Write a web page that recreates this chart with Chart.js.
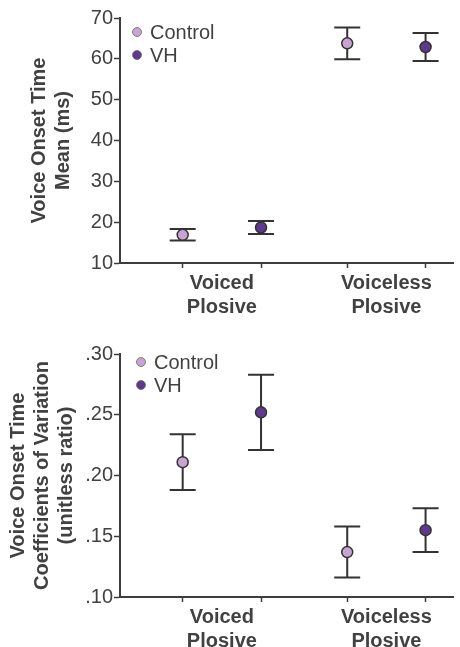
<!DOCTYPE html>
<html lang="en">
<head>
  <meta charset="UTF-8">
  <title>Voice Onset Time</title>
  <style>
    body {
      margin: 0;
      padding: 0;
      background: #ffffff;
    }
    .wrap {
      position: relative;
      width: 460px;
      height: 647px;
    }
    canvas {
      position: absolute;
      left: 0;
    }
    #meanChart { top: 0; }
    #cvChart { top: 315px; }
  </style>
</head>
<body>
  <div class="wrap">
    <canvas id="meanChart" width="460" height="325"></canvas>
    <canvas id="cvChart" width="460" height="332"></canvas>
  </div>

  <script src="https://cdn.jsdelivr.net/npm/chart.js"></script>
  <script>
    // data
    const categories = [['Voiced', 'Plosive'], ['Voiceless', 'Plosive']];
    const groups = ['Control', 'VH'];

    const meanControl = [16.9, 63.8];
    const meanControlErr = [1.4, 3.9];
    const meanVH = [18.7, 62.9];
    const meanVHErr = [1.6, 3.4];

    const cvControl = [0.211, 0.137];
    const cvControlErr = [0.023, 0.021];
    const cvVH = [0.252, 0.155];
    const cvVHErr = [0.031, 0.018];

    const meanTicks = [10, 20, 30, 40, 50, 60, 70];
    const cvTicks = ['.10', '.15', '.20', '.25', '.30'];

    const textColor = '#414141';
    const axisColor = '#3d3d3d';
    const fontFamily = "'Liberation Sans', Arial, Helvetica, sans-serif";
    const colors = ['#c9a3d2', '#5f3a8c'];

    Chart.defaults.font.family = fontFamily;
    Chart.defaults.color = textColor;

    // x position of a point: category index + series offset
    function xPos(cat, series) {
      return 1 + cat * 2.1 + series;
    }

    function buildDatasets(seriesVals, seriesErr) {
      return groups.map((g, s) => ({
        label: g,
        data: seriesVals[s].map((v, c) => ({ x: xPos(c, s), y: v })),
        errors: seriesErr[s],
        backgroundColor: colors[s],
        borderColor: '#333333',
        borderWidth: 1.5,
        pointRadius: 5.5,
        pointHoverRadius: 5.5,
        showLine: false
      }));
    }

    // vertical error bars, drawn behind the points
    const errorBars = {
      id: 'errorBars',
      beforeDatasetsDraw(chart) {
        const ctx = chart.ctx;
        const yScale = chart.scales.y;
        ctx.save();
        ctx.strokeStyle = '#333333';
        ctx.lineWidth = 2;
        chart.data.datasets.forEach((ds, i) => {
          const meta = chart.getDatasetMeta(i);
          meta.data.forEach((pt, j) => {
            const v = ds.data[j].y;
            const e = ds.errors[j];
            const top = yScale.getPixelForValue(v + e);
            const bot = yScale.getPixelForValue(v - e);
            const x = pt.x;
            ctx.beginPath();
            ctx.moveTo(x, top);
            ctx.lineTo(x, bot);
            ctx.moveTo(x - 13, top);
            ctx.lineTo(x + 13, top);
            ctx.moveTo(x - 13, bot);
            ctx.lineTo(x + 13, bot);
            ctx.stroke();
          });
        });
        ctx.restore();
      }
    };

    // legend sitting inside the plot area, top left
    const insideLegend = {
      id: 'insideLegend',
      afterDraw(chart, args, opts) {
        const { ctx, chartArea } = chart;
        ctx.save();
        ctx.font = '20px ' + fontFamily;
        ctx.textBaseline = 'middle';
        ctx.textAlign = 'left';
        chart.data.datasets.forEach((ds, i) => {
          const cx = chartArea.left + opts.x;
          const cy = chartArea.top + opts.y + i * 23;
          ctx.beginPath();
          ctx.arc(cx, cy, 4.5, 0, Math.PI * 2);
          ctx.fillStyle = ds.backgroundColor;
          ctx.fill();
          ctx.lineWidth = 0.8;
          ctx.strokeStyle = '#6a6a6a';
          ctx.stroke();
          ctx.fillStyle = textColor;
          ctx.fillText(ds.label, cx + 13, cy + 1);
        });
        ctx.restore();
      }
    };

    function makeChart(id, datasets, yOpts, titleLines, titlePad, topPad, xHeight, legendPos) {
      const groupCenters = categories.map((c, i) => (xPos(i, 0) + xPos(i, 1)) / 2);
      const pointXs = [];
      categories.forEach((c, i) => groups.forEach((g, s) => pointXs.push(xPos(i, s))));

      return new Chart(document.getElementById(id), {
        type: 'scatter',
        data: { datasets: datasets },
        plugins: [errorBars, insideLegend],
        options: {
          responsive: false,
          animation: false,
          layout: { padding: { top: topPad, left: 0, right: 0, bottom: 0 } },
          plugins: {
            legend: { display: false },
            tooltip: { enabled: false },
            insideLegend: legendPos
          },
          scales: {
            x: {
              type: 'linear',
              min: 0.2,
              max: 4.45,
              afterBuildTicks(scale) {
                scale.ticks = pointXs.concat(groupCenters)
                  .sort((a, b) => a - b)
                  .map(v => ({ value: v }));
              },
              afterFit(scale) { scale.height = xHeight; },
              ticks: {
                autoSkip: false,
                maxRotation: 0,
                padding: 3,
                color: textColor,
                font: { size: 20, weight: 'bold' },
                callback(value) {
                  const k = groupCenters.findIndex(c => Math.abs(c - value) < 1e-6);
                  return k >= 0 ? categories[k] : '';
                }
              },
              grid: {
                drawOnChartArea: false,
                tickLength: 5,
                tickWidth: 1.5,
                tickColor(ctx) {
                  const v = ctx.tick ? ctx.tick.value : null;
                  return groupCenters.some(c => Math.abs(c - v) < 1e-6) ? 'rgba(0,0,0,0)' : axisColor;
                }
              },
              border: { display: true, color: axisColor, width: 2 }
            },
            y: Object.assign({
              position: 'left',
              afterFit(scale) { scale.width = 120; },
              title: {
                display: true,
                text: titleLines,
                color: textColor,
                font: { size: 20, weight: 'bold', lineHeight: 1.2 },
                padding: { top: titlePad, bottom: 0 }
              },
              grid: {
                drawOnChartArea: false,
                tickLength: 6,
                tickWidth: 1.5,
                tickColor: axisColor
              },
              border: { display: true, color: axisColor, width: 2 }
            }, yOpts)
          }
        }
      });
    }

    makeChart('meanChart',
      buildDatasets([meanControl, meanVH], [meanControlErr, meanVHErr]),
      {
        min: meanTicks[0],
        max: meanTicks[meanTicks.length - 1],
        afterBuildTicks(scale) { scale.ticks = meanTicks.map(v => ({ value: v })); },
        ticks: { padding: 1, color: textColor, font: { size: 20 } }
      },
      ['Voice Onset Time', 'Mean (ms)'], 27, 18, 62, { x: 17, y: 14 });

    makeChart('cvChart',
      buildDatasets([cvControl, cvVH], [cvControlErr, cvVHErr]),
      {
        min: parseFloat(cvTicks[0]),
        max: parseFloat(cvTicks[cvTicks.length - 1]),
        afterBuildTicks(scale) { scale.ticks = cvTicks.map(t => ({ value: parseFloat(t) })); },
        ticks: {
          padding: 1,
          color: textColor,
          font: { size: 20 },
          callback(value) {
            return cvTicks.find(t => Math.abs(parseFloat(t) - value) < 1e-6) || '';
          }
        }
      },
      ['Voice Onset Time', 'Coefficients of Variation', '(unitless ratio)'], 6, 39, 50, { x: 21, y: 8 });
  </script>
</body>
</html>
